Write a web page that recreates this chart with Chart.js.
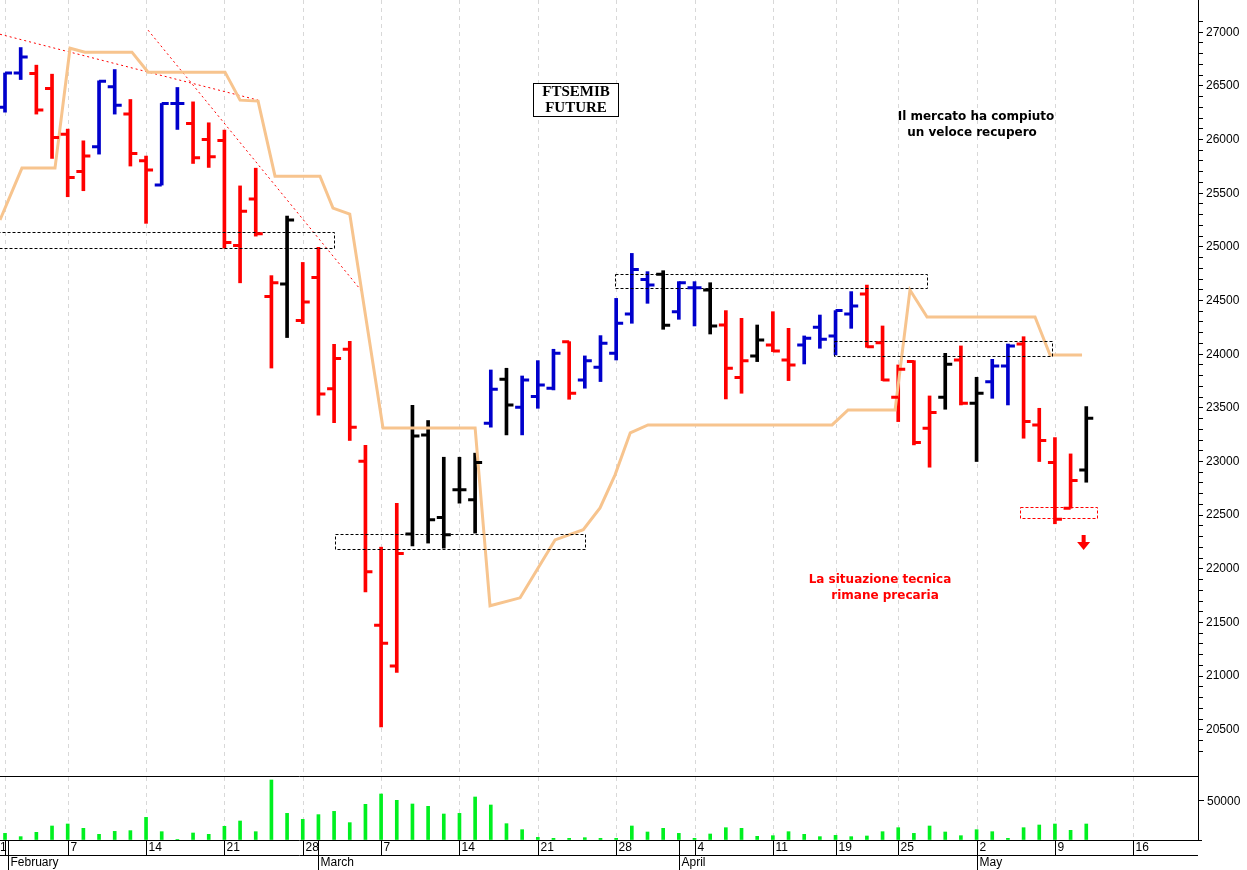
<!DOCTYPE html>
<html>
<head>
<meta charset="utf-8">
<script src="https://cdn.jsdelivr.net/npm/chart.js@4.4.1/dist/chart.umd.min.js"></script>
<style>
  body { margin: 0; background: #fff; }
  canvas { position: absolute; left: 0; }
  #price { top: 0; }
  #volume { top: 776px; }
</style>
</head>
<body>
<canvas id="price" width="1247" height="776"></canvas>
<canvas id="volume" width="1247" height="94"></canvas>
<script>
// Daily bars, 1 Feb - 11 May (trading-day index 0..69)
const opens = [26300,26621,26615,26476,26050,25703,25932,26491,26237,25802,25576,26336,26150,26001,25990,25013,25445,24538,24654,24313,
  24714,23678,24046,23003,21475,21096,22325,23248,22479,22736,22643,23357,23766,23506,23605,23683,24117,23760,23878,24008,
  24375,24697,24744,24396,24620,24598,24272,23782,23984,24086,23946,24086,24250,24170,24375,24561,24107,23599,23931,23310,
  23599,23946,23543,23744,23890,24095,23341,22990,22565,22922];
const highs = [26620,26857,26693,26609,26097,25988,26547,26652,26373,25846,26336,26485,26351,26156,26088,25568,25733,24732,25287,24855,
  24995,24092,24120,23151,22202,22610,23523,23382,23040,23040,23078,23853,23869,23797,23940,24046,24117,23984,24173,24520,
  24939,24769,24778,24676,24676,24666,24406,24334,24272,24396,24241,24170,24365,24406,24583,24644,24263,23900,23940,23611,
  24008,24077,23785,23952,24095,24163,23496,23223,23071,23512];
const lows = [26255,26559,26237,25824,25467,25523,25864,26237,25753,25219,25576,26094,25777,25740,24988,24665,25100,23871,24155,24285,
  23432,23362,23196,21784,20527,21036,22213,22240,22193,22612,22333,23320,23248,23248,23496,23667,23580,23683,23745,23946,
  24288,24474,24232,24325,24263,24188,23583,23636,23931,24024,23754,23909,24055,23993,24241,24064,23754,23372,23155,22947,
  23487,23527,23000,23589,23527,23217,23000,22420,22565,22807];
const closes = [26620,26770,26274,26019,25647,25846,26544,26320,25870,25715,26336,26336,25830,25840,25041,25332,25121,24665,25251,24486,
  23628,23959,23319,21974,21306,22142,23238,22457,22317,22736,22991,23673,23527,23760,23714,24008,23636,23940,24101,24288,
  24790,24645,24269,24666,24620,24263,23869,23940,24133,24030,23900,24148,24139,24406,24449,24070,23760,23859,23177,23456,
  23906,23543,23636,23890,24077,23372,23195,22463,22823,23403];
// B = blue, R = red, K = black
const barColors = 'BBRRRRBBRRBBRRRRRRKRRRRRRRKKKKKBKBBBRBBBBBKBBKRRKRRBBBBRRRRRKRKBBRRRRK';
const volumes = [8300,4200,9600,17500,20000,14600,7100,10800,11700,28300,10400,800,8750,7100,17100,23750,10400,75000,33300,25800,
  31700,35800,21700,44600,57500,49600,45000,42100,32500,33300,53750,43750,20400,12900,3300,2100,2100,2900,2100,2100,
  17500,10000,14600,8300,2100,7500,15400,14600,4600,5400,10400,7100,4200,5800,4200,5000,10400,15400,8300,17500,
  10000,5400,12900,10400,2100,15400,18750,20000,12100,20000];

// orange stop line vertices [index, price]
const stopIdx = [-0.32,1.08,3.19,4.15,5.1,8.1,9.13,14.04,15.0,16.15,17.23,20.1,20.93,22.0,24.12,30.0,30.95,32.87,35.1,36.9,37.97,38.93,39.9,41.03,52.78,53.8,56.8,57.75,58.84,65.73,66.69,68.73];
const stopVal = [25250,25734,25734,26851,26814,26814,26628,26628,26367,26358,25659,25659,25361,25306,23313,23313,21656,21730,22270,22364,22568,22876,23267,23341,23341,23481,23481,24598,24347,24347,23993,23993];

// trendlines [x0, y0, x1, y1]
const trend1 = [-0.32, 26981, 16.15, 26367];
const trend2 = [9.13, 27019, 22.8, 24581];

// dashed boxes [x0, x1, top, bottom, colour]
const boxes = [
  [-0.5, 21.0, 25138, 24989, '#000'],
  [21.06, 37.0, 22324, 22184, '#000'],
  [38.9, 58.85, 24744, 24614, '#000'],
  [52.9, 66.8, 24123, 23987, '#000'],
  [64.8, 69.7, 22575, 22473, '#ff0000']
];

// x-axis labels
const dayIdx = [0,4,9,14,19,24,29,34,39,44,49,53,57,62,67,72];
const dayLabels = ['1','7','14','21','28','7','14','21','28','4','11','19','25','2','9','16'];
const monthIdx = [0,20,43,62];
const monthLabels = ['February','March','April','May'];

const colorMap = { B: '#0000cc', R: '#ff0000', K: '#000000' };
const xMin = -0.32, xMax = 76.13;

function fixWidth(scale) { scale.width = 49; }

function drawGrid(chart, top, bottom) {
  const { ctx, scales } = chart;
  ctx.save();
  ctx.strokeStyle = '#d8d8d8';
  ctx.lineWidth = 1;
  ctx.setLineDash([4, 4]);
  dayIdx.forEach(i => {
    const x = Math.round(scales.x.getPixelForValue(i)) + 0.5;
    ctx.beginPath();
    ctx.moveTo(x, top);
    ctx.lineTo(x, bottom);
    ctx.stroke();
  });
  ctx.restore();
}

const pricePlugin = {
  id: 'pricePlugin',
  beforeDatasetsDraw(chart) { drawGrid(chart, 0, chart.height); },
  afterDatasetsDraw(chart) {
    const { ctx, scales, chartArea } = chart;
    const xs = scales.x, ys = scales.y;
    ctx.save();
    // axis line over the full panel height
    ctx.strokeStyle = '#000';
    ctx.lineWidth = 1;
    ctx.beginPath();
    ctx.moveTo(chartArea.right + 0.5, 0); ctx.lineTo(chartArea.right + 0.5, chart.height);
    ctx.stroke();
    // boxes
    ctx.setLineDash([3, 2]);
    boxes.forEach(b => {
      const x0 = Math.round(xs.getPixelForValue(b[0])) + 0.5;
      const x1 = Math.round(xs.getPixelForValue(b[1])) + 0.5;
      const y0 = Math.round(ys.getPixelForValue(b[2])) + 0.5;
      const y1 = Math.round(ys.getPixelForValue(b[3])) + 0.5;
      ctx.strokeStyle = b[4];
      ctx.strokeRect(x0, y0, x1 - x0, y1 - y0);
    });
    ctx.setLineDash([]);
    // open / close ticks
    ctx.lineWidth = 3;
    opens.forEach((o, i) => {
      const x = xs.getPixelForValue(i);
      ctx.strokeStyle = colorMap[barColors[i]];
      const yo = ys.getPixelForValue(o), yc = ys.getPixelForValue(closes[i]);
      ctx.beginPath();
      ctx.moveTo(x - 7, yo); ctx.lineTo(x, yo);
      ctx.moveTo(x, yc); ctx.lineTo(x + 7, yc);
      ctx.stroke();
    });
    // title box
    ctx.fillStyle = '#fff';
    ctx.fillRect(533, 83, 85, 33);
    ctx.strokeStyle = '#000';
    ctx.lineWidth = 1;
    ctx.strokeRect(533.5, 83.5, 85, 33);
    ctx.fillStyle = '#000';
    ctx.textAlign = 'center';
    ctx.textBaseline = 'middle';
    ctx.font = 'bold 15px "Liberation Serif"';
    ctx.fillText('FTSEMIB', 576, 92);
    ctx.fillText('FUTURE', 576, 108);
    ctx.font = 'bold 12px "DejaVu Sans"';
    ctx.fillText('Il mercato ha compiuto', 976, 117);
    ctx.fillText('un veloce recupero', 972, 133);
    ctx.fillStyle = '#ff0000';
    ctx.fillText('La situazione tecnica', 880, 580);
    ctx.fillText('rimane precaria', 885, 596);
    // down arrow
    const ax = xs.getPixelForValue(68.8);
    ctx.fillRect(ax - 1.5, 535, 4, 8);
    ctx.beginPath();
    ctx.moveTo(ax - 6, 542); ctx.lineTo(ax + 7, 542); ctx.lineTo(ax + 0.5, 550);
    ctx.closePath();
    ctx.fill();
    ctx.restore();
  }
};

const hiLo = opens.map((o, i) => ({ x: i, y: [lows[i], highs[i]] }));
const trendSet = (t) => ({
  type: 'line', data: [{ x: t[0], y: t[1] }, { x: t[2], y: t[3] }],
  borderColor: '#ff0000', borderWidth: 1, borderDash: [2, 3], pointRadius: 0
});

new Chart(document.getElementById('price'), {
  type: 'bar',
  data: {
    datasets: [
      {
        type: 'line',
        data: stopIdx.map((x, i) => ({ x, y: stopVal[i] })),
        borderColor: '#f7c48e', borderWidth: 3, pointRadius: 0, tension: 0
      },
      trendSet(trend1),
      trendSet(trend2),
      {
        type: 'bar', data: hiLo,
        backgroundColor: hiLo.map((d, i) => colorMap[barColors[i]]),
        barThickness: 3, borderSkipped: false
      }
    ]
  },
  options: {
    responsive: false, animation: false, devicePixelRatio: 1,
    layout: { padding: 0 },
    clip: false,
    plugins: { legend: { display: false }, tooltip: { enabled: false } },
    scales: {
      x: { type: 'linear', min: xMin, max: xMax, display: false, offset: false },
      y: {
        position: 'right', min: 20165, max: 27205,
        afterFit: fixWidth,
        afterBuildTicks(scale) { scale.ticks = scale.ticks.filter(t => t.value % 100 === 0); },
        ticks: {
          stepSize: 100, autoSkip: false, color: '#000', padding: 3,
          font: { family: 'Liberation Sans', size: 12 },
          callback: v => v % 500 === 0 ? v : ''
        },
        grid: { drawOnChartArea: false, color: '#000', tickLength: 5 },
        border: { color: '#000' }
      }
    }
  },
  plugins: [pricePlugin]
});

const volumePlugin = {
  id: 'volumePlugin',
  beforeDatasetsDraw(chart) { drawGrid(chart, chart.chartArea.top, chart.chartArea.bottom); },
  afterDraw(chart) {
    const { ctx, chartArea, scales } = chart;
    const xs = scales.x;
    const base = chartArea.bottom;
    ctx.save();
    ctx.strokeStyle = '#000';
    ctx.lineWidth = 1;
    ctx.beginPath();
    ctx.moveTo(0, chartArea.top - 0.5); ctx.lineTo(chartArea.right, chartArea.top - 0.5);
    ctx.moveTo(0, base + 0.5); ctx.lineTo(chartArea.right, base + 0.5);
    ctx.moveTo(0, base + 15.5); ctx.lineTo(chartArea.right, base + 15.5);
    ctx.moveTo(chartArea.right + 0.5, 0); ctx.lineTo(chartArea.right + 0.5, base);
    ctx.stroke();
    ctx.fillStyle = '#000';
    ctx.font = '12px "Liberation Sans"';
    ctx.textBaseline = 'middle';
    ctx.textAlign = 'left';
    // volume axis label
    const y50 = Math.round(scales.y.getPixelForValue(50000)) + 0.5;
    ctx.beginPath();
    ctx.moveTo(chartArea.right, y50); ctx.lineTo(chartArea.right + 6, y50);
    ctx.stroke();
    ctx.fillText('50000', chartArea.right + 9, y50 + 1);
    dayIdx.forEach((d, i) => {
      const x = Math.round(xs.getPixelForValue(d)) + 0.5;
      ctx.beginPath();
      ctx.moveTo(x, base); ctx.lineTo(x, base + 15);
      ctx.stroke();
      ctx.fillText(dayLabels[i], i === 0 ? 0 : x + 2, base + 8);
    });
    monthIdx.forEach((m, i) => {
      const x = Math.round(xs.getPixelForValue(m)) + 0.5 + (i === 0 ? 3 : 0);
      ctx.beginPath();
      ctx.moveTo(x, base); ctx.lineTo(x, base + 30);
      ctx.stroke();
      ctx.fillText(monthLabels[i], x + 2, base + 23);
    });
    ctx.restore();
  }
};

new Chart(document.getElementById('volume'), {
  type: 'bar',
  data: {
    datasets: [{
      data: volumes.map((v, i) => ({ x: i, y: v })),
      backgroundColor: '#00f020', barThickness: 3
    }]
  },
  options: {
    responsive: false, animation: false, devicePixelRatio: 1,
    layout: { padding: { top: 1, bottom: 30, left: 0, right: 0 } },
    plugins: { legend: { display: false }, tooltip: { enabled: false } },
    scales: {
      x: { type: 'linear', min: xMin, max: xMax, display: false, offset: false },
      y: {
        position: 'right', min: 0, max: 78750,
        afterFit: fixWidth,
        afterBuildTicks(scale) { scale.ticks = scale.ticks.filter(t => t.value % 12500 === 0); },
        ticks: { display: false, stepSize: 12500 },
        grid: { drawOnChartArea: false, color: '#000', tickLength: 4 },
        border: { color: '#000' }
      }
    }
  },
  plugins: [volumePlugin]
});
</script>
</body>
</html>
